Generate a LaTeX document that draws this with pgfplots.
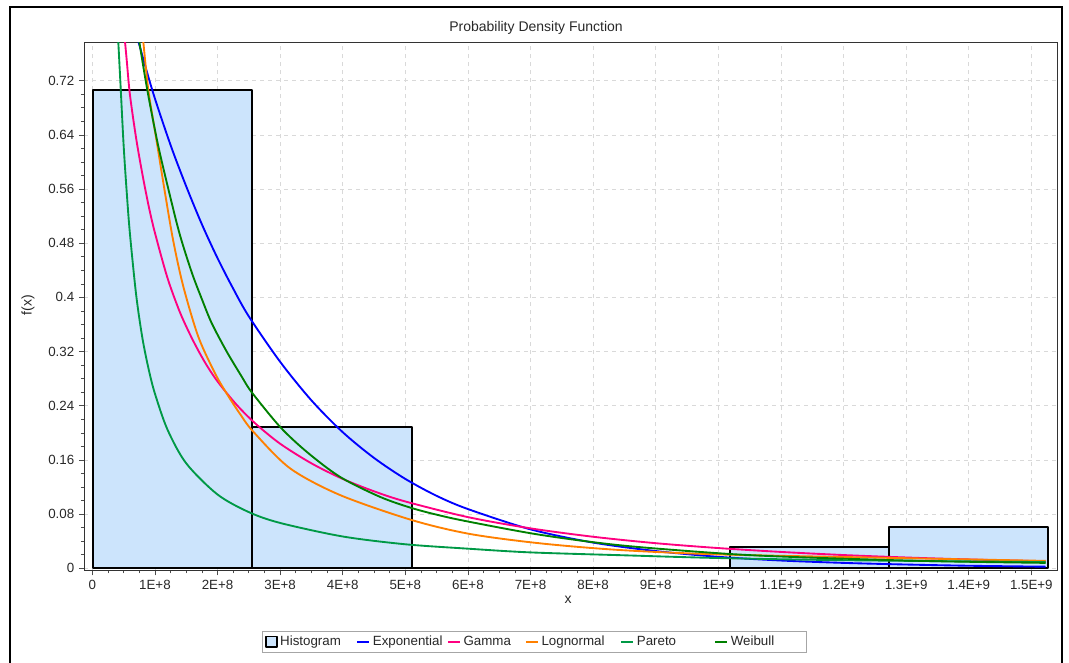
\documentclass[border=0pt]{standalone}
\usepackage{pgfplots}
\pgfplotsset{compat=1.18}
\usepackage{fontspec}
\setmainfont{Liberation Sans}

\definecolor{histfill}{RGB}{204,228,252}
\definecolor{cExp}{RGB}{0,0,255}
\definecolor{cGam}{RGB}{255,0,128}
\definecolor{cLog}{RGB}{255,128,0}
\definecolor{cPar}{RGB}{0,153,70}
\definecolor{cWei}{RGB}{0,128,0}
\definecolor{txt}{RGB}{40,40,40}

\begin{document}
\begin{tikzpicture}
\useasboundingbox (-63.225pt,-69pt) rectangle (738.525pt,427.5pt);
% outer chart frame
\draw[black, line width=1.5pt] (-55.7pt,-75pt) -- (-55.7pt,422.25pt) -- (733.3pt,422.25pt) -- (733.3pt,-75pt);

\begin{axis}[
  scale only axis,
  width=729.75pt, height=395.8pt,
  xmin=-0.128, xmax=15.415,
  ymin=-0.0025, ymax=0.7767,
  axis line style={black!80, line width=0.6pt},
  tick pos=left, tick align=outside,
  major tick length=4pt, minor tick length=2.5pt,
  every tick/.style={black!70, line width=0.5pt},
  xtick={0,1,...,15},
  xticklabels={0,1E+8,2E+8,3E+8,4E+8,5E+8,6E+8,7E+8,8E+8,9E+8,1E+9,1.1E+9,1.2E+9,1.3E+9,1.4E+9,1.5E+9},
  ytick={0,0.08,0.16,0.24,0.32,0.4,0.48,0.56,0.64,0.72},
  yticklabels={0,0.08,0.16,0.24,0.32,0.4,0.48,0.56,0.64,0.72},
  minor x tick num=3, minor y tick num=3,
  ticklabel style={font=\fontsize{10}{12}\selectfont, text=txt},
  grid=major,
  major grid style={gray!30, dash pattern=on 3pt off 3pt, line width=0.5pt},
  clip=true,
  legend columns=6,
  legend style={
    at={(axis description cs:0.1827,-0.1156)}, anchor=north west,
    draw=gray!70, fill=white, line width=0.6pt,
    font=\fontsize{10}{12}\selectfont, text=txt,
    inner xsep=2pt, inner ysep=1.5pt,
    /tikz/every even column/.append style={column sep=0pt},
  },
  legend image code/.code={\draw[#1, line width=1.5pt] (0pt,0pt) -- (9pt,0pt);},
  every axis plot/.append style={line join=round},
]

% histogram (bin edges and heights)
\addplot[ybar interval, fill=histfill, draw=black, line width=1.5pt,
  legend image code/.code={\draw[black, fill=histfill, line width=1.3pt] (0pt,-4pt) rectangle (8pt,4pt);}]
  coordinates {(0.016,0.7063) (2.556,0.2082) (5.10,0) (7.64,0) (10.18,0.0319) (12.72,0.0605) (15.26,0.0605)};
\addlegendentry{\makebox[55pt][l]{Histogram}}

\addplot[cExp, line width=1.4pt, smooth, tension=0.5] coordinates {
(0.70,0.79) (0.958,0.706) (1.25,0.625) (1.5,0.564) (1.75,0.508) (2.0,0.458) (2.25,0.413) (2.5,0.372) (3.0,0.305) (3.5,0.248) (4.0,0.201) (4.5,0.163) (5.0,0.132) (5.5,0.107) (6.0,0.0875) (7.0,0.0575) (8.0,0.038) (9.0,0.0255) (10.0,0.017) (11.0,0.0115) (12.0,0.0080) (13.0,0.0056) (14.0,0.0038) (15.23,0.0024)};
\addlegendentry{\makebox[53.5pt][l]{Exponential}}

\addplot[cGam, line width=1.4pt, smooth, tension=0.5] coordinates {
(0.50,0.80) (0.55,0.75) (0.6,0.70) (0.7,0.635) (0.8,0.582) (0.9,0.535) (1.0,0.4955) (1.2,0.429) (1.4,0.378) (1.6,0.338) (1.8,0.304) (2.0,0.276) (2.3,0.242) (2.6,0.2142) (3.0,0.184) (3.5,0.155) (4.0,0.132) (4.5,0.1137) (5.0,0.0987) (6.0,0.0756) (7.0,0.059) (8.0,0.0466) (9.0,0.0371) (10.0,0.0299) (11.0,0.0242) (12.0,0.0196) (13.0,0.0160) (14.0,0.0131) (15.23,0.0103)};
\addlegendentry{\makebox[44pt][l]{Gamma}}

\addplot[cLog, line width=1.4pt, smooth, tension=0.5] coordinates {
(0.80,0.79) (0.815,0.777) (0.895,0.706) (1.02,0.635) (1.16,0.555) (1.294,0.483) (1.454,0.416) (1.693,0.342) (1.96,0.288) (2.147,0.258) (2.359,0.228) (2.572,0.2017) (3.158,0.1477) (3.957,0.1082) (5.102,0.0713) (6.033,0.0507) (7.152,0.0369) (8.43,0.027) (10.027,0.0205) (12.69,0.0155) (15.23,0.011)};
\addlegendentry{\makebox[57pt][l]{Lognormal}}

\addplot[cPar, line width=1.4pt, smooth, tension=0.5] coordinates {
(0.40,0.80) (0.415,0.777) (0.45,0.715) (0.5,0.625) (0.55,0.555) (0.6,0.495) (0.7,0.404) (0.8,0.340) (0.9,0.294) (1.0,0.258) (1.2,0.205) (1.5,0.155) (2.0,0.109) (2.5,0.083) (3.0,0.067) (4.0,0.047) (5.0,0.0355) (6.0,0.029) (7.0,0.0235) (8.5,0.0192) (10.0,0.0152) (12.0,0.0120) (15.23,0.0092)};
\addlegendentry{\makebox[56pt][l]{Pareto}}

\addplot[cWei, line width=1.4pt, smooth, tension=0.5] coordinates {
(0.72,0.795) (0.751,0.777) (0.879,0.706) (1.05,0.625) (1.241,0.550) (1.40,0.492) (1.588,0.437) (1.748,0.398) (1.907,0.362) (2.147,0.320) (2.387,0.283) (2.546,0.260) (2.998,0.209) (3.425,0.172) (3.957,0.135) (4.596,0.1055) (5.102,0.089) (5.554,0.078) (6.033,0.0685) (7.152,0.0495) (8.43,0.034) (10.027,0.0221) (11.09,0.0171) (12.69,0.0123) (13.75,0.0100) (15.23,0.0080)};
\addlegendentry{\makebox[53pt][l]{Weibull}}

\end{axis}

\node[font=\fontsize{10.5}{12}\selectfont, text=txt] at (338.8pt,406.5pt) {Probability Density Function};
\node[font=\fontsize{10.5}{12}\selectfont, text=txt, rotate=90] at (-42.2pt,198.75pt) {f(x)};
\node[font=\fontsize{10.5}{12}\selectfont, text=txt] at (362.8pt,-22.5pt) {x};
\end{tikzpicture}
\end{document}
